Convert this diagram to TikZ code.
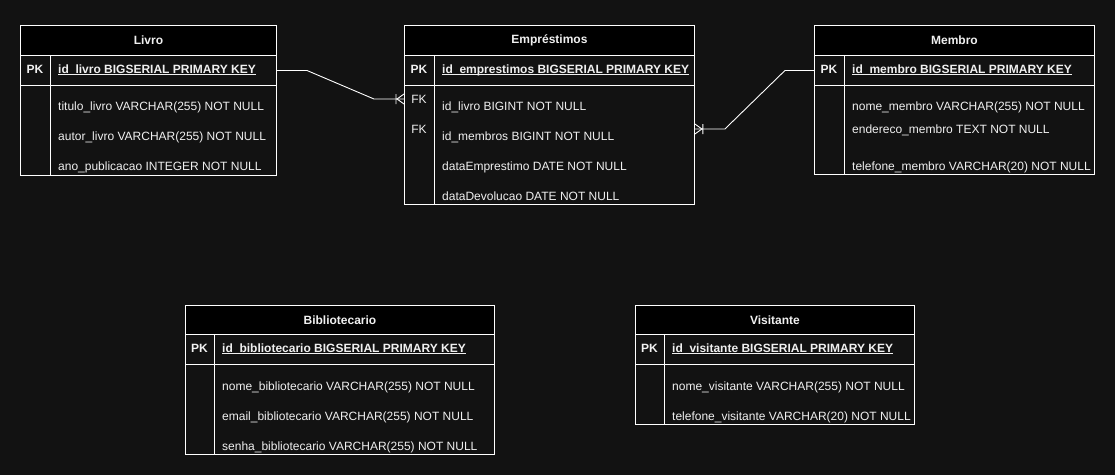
\documentclass[tikz,border=0pt]{standalone}
\usepackage{fontspec}
\setmainfont{Liberation Sans}
\definecolor{bg}{RGB}{18,18,18}
\definecolor{fg}{RGB}{240,240,240}
\newcommand\myul[1]{\setbox0\hbox{#1}\rlap{\rule[-1.8pt]{\wd0}{0.9pt}}\box0}
\tikzset{
  tbl/.style={draw=white, line width=0.9pt, rectangle, inner sep=0pt, anchor=north west, fill=bg},
  hdr/.style={tbl, fill=black, text=fg, font=\fontsize{12}{14}\selectfont\bfseries},
  keylbl/.style={inner sep=0pt, anchor=center, text=fg, font=\fontsize{12}{14}\selectfont},
  pklbl/.style={keylbl, font=\fontsize{12}{14}\selectfont\bfseries},
  field/.style={inner sep=0pt, anchor=base west, text=fg, font=\fontsize{12}{14}\selectfont},
  pkfield/.style={field, font=\fontsize{12}{14}\selectfont\bfseries},
  divline/.style={draw=white, line width=0.9pt},
  conn/.style={draw=white, line width=0.9pt},
  crow/.pic={
    \draw[conn] (-7,0) -- (0,-5) (-7,0) -- (0,5) (-8,-5) -- (-8,5);
  }
}
\begin{document}
\begin{tikzpicture}[x=1pt,y=-1pt]
\fill[bg] (0,0) rectangle (1115,475);
\useasboundingbox (0,0) rectangle (1115,475);

% ---------- Livro ----------
\node[tbl, minimum width=256pt, minimum height=150pt] (livro) at (20,25) {};
\node[hdr, minimum width=256pt, minimum height=30pt] (livroH) at (20,25) {Livro};
\node[tbl, minimum width=256pt, minimum height=30pt] (livroPK) at (20,55) {};
\draw[divline] (50,55) -- (50,175);
\node[pklbl] (livroPKl) at (35,69) {PK};
\node[pkfield] (livroPKf) at (58,73) {\myul{id\_livro BIGSERIAL PRIMARY KEY}};
\node[field] (livroF1) at (58,110.5) {titulo\_livro VARCHAR(255) NOT NULL};
\node[field] (livroF2) at (58,140.5) {autor\_livro VARCHAR(255) NOT NULL};
\node[field] (livroF3) at (58,170.5) {ano\_publicacao INTEGER NOT NULL};

% ---------- Emprestimos ----------
\node[tbl, minimum width=290pt, minimum height=179pt] (emp) at (404,25) {};
\node[hdr, minimum width=290pt, minimum height=30pt] (empH) at (404,25) {Empréstimos};
\node[tbl, minimum width=290pt, minimum height=30pt] (empPK) at (404,55) {};
\draw[divline] (434,55) -- (434,204);
\node[pklbl] (empPKl) at (419,69) {PK};
\node[pkfield] (empPKf) at (442,73) {\myul{id\_emprestimos BIGSERIAL PRIMARY KEY}};
\node[keylbl] (empFK1) at (419,99) {FK};
\node[keylbl] (empFK2) at (419,129) {FK};
\node[field] (empF1) at (442,110.5) {id\_livro BIGINT NOT NULL};
\node[field] (empF2) at (442,140.5) {id\_membros BIGINT NOT NULL};
\node[field] (empF3) at (442,170.5) {dataEmprestimo DATE NOT NULL};
\node[field] (empF4) at (442,200) {dataDevolucao DATE NOT NULL};

% ---------- Membro ----------
\node[tbl, minimum width=280pt, minimum height=149pt] (mem) at (814,25) {};
\node[hdr, minimum width=280pt, minimum height=30pt] (memH) at (814,25) {Membro};
\node[tbl, minimum width=280pt, minimum height=30pt] (memPK) at (814,55) {};
\draw[divline] (844,55) -- (844,174);
\node[pklbl] (memPKl) at (829,69) {PK};
\node[pkfield] (memPKf) at (852,73) {\myul{id\_membro BIGSERIAL PRIMARY KEY}};
\node[field] (memF1) at (852,110.5) {nome\_membro VARCHAR(255) NOT NULL};
\node[field] (memF2) at (852,133.5) {endereco\_membro TEXT NOT NULL};
\node[field] (memF3) at (852,170.5) {telefone\_membro VARCHAR(20) NOT NULL};

% ---------- Bibliotecario ----------
\node[tbl, minimum width=309pt, minimum height=149pt] (bib) at (185,305) {};
\node[hdr, minimum width=309pt, minimum height=29pt] (bibH) at (185,305) {Bibliotecario};
\node[tbl, minimum width=309pt, minimum height=30pt] (bibPK) at (185,334) {};
\draw[divline] (214,334) -- (214,454);
\node[pklbl] (bibPKl) at (199.5,348.5) {PK};
\node[pkfield] (bibPKf) at (222,352.5) {\myul{id\_bibliotecario BIGSERIAL PRIMARY KEY}};
\node[field] (bibF1) at (222,390.5) {nome\_bibliotecario VARCHAR(255) NOT NULL};
\node[field] (bibF2) at (222,420.5) {email\_bibliotecario VARCHAR(255) NOT NULL};
\node[field] (bibF3) at (222,450.5) {senha\_bibliotecario VARCHAR(255) NOT NULL};

% ---------- Visitante ----------
\node[tbl, minimum width=279pt, minimum height=119pt] (vis) at (635,305) {};
\node[hdr, minimum width=279pt, minimum height=29pt] (visH) at (635,305) {Visitante};
\node[tbl, minimum width=279pt, minimum height=30pt] (visPK) at (635,334) {};
\draw[divline] (664,334) -- (664,424);
\node[pklbl] (visPKl) at (649.5,348.5) {PK};
\node[pkfield] (visPKf) at (672,352.5) {\myul{id\_visitante BIGSERIAL PRIMARY KEY}};
\node[field] (visF1) at (672,390.5) {nome\_visitante VARCHAR(255) NOT NULL};
\node[field] (visF2) at (672,420.5) {telefone\_visitante VARCHAR(20) NOT NULL};

% ---------- Connectors ----------
\coordinate (c1end) at (emp.west |- empFK1.center);
\coordinate (c2end) at (emp.east |- empFK2.center);
\draw[conn] (livroPK.east) -- ++(30,0) -- ([xshift=-30pt]c1end) -- (c1end);
\pic at (c1end) {crow};
\draw[conn] (memPK.west) -- ++(-29,0) -- ([xshift=30pt]c2end) -- (c2end);
\pic[xscale=-1] at (c2end) {crow};
\end{tikzpicture}
\end{document}
